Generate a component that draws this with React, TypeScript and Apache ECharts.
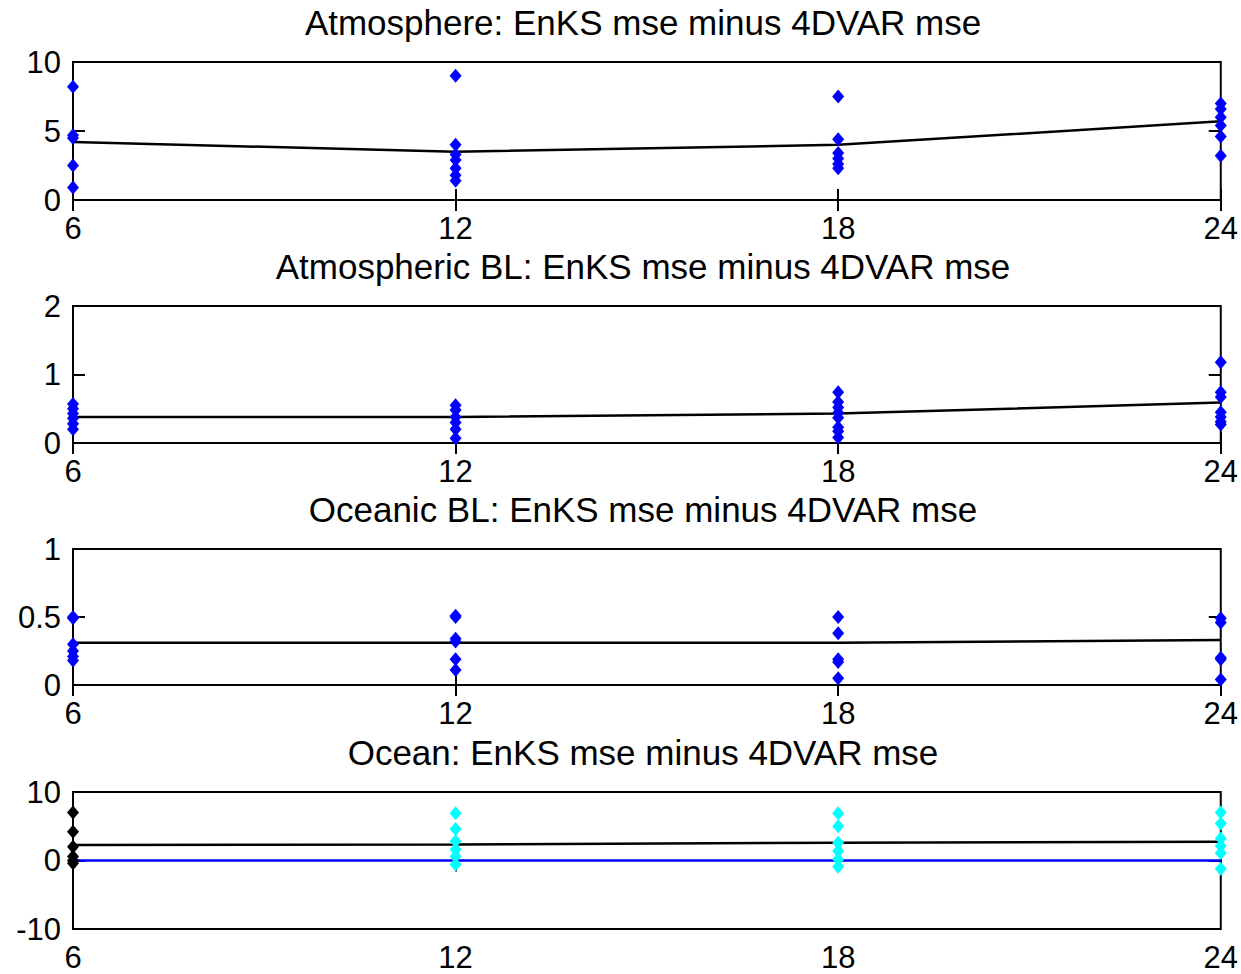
import React, { useEffect, useRef } from "react";
import * as echarts from "echarts";

const hours = [6, 12, 18, 24];
const titles = [
  "Atmosphere: EnKS mse minus 4DVAR mse",
  "Atmospheric BL: EnKS mse minus 4DVAR mse",
  "Oceanic BL: EnKS mse minus 4DVAR mse",
  "Ocean: EnKS mse minus 4DVAR mse",
];
const yMins = [0, 0, 0, -10];
const yMaxs = [10, 2, 1, 10];
const yIntervals = [5, 1, 0.5, 10];

// Panel 1: Atmosphere
const atmPts6 = [8.2, 4.7, 4.5, 2.5, 0.9];
const atmPts12 = [9.0, 4.0, 3.3, 2.9, 2.3, 1.8, 1.4];
const atmPts18 = [7.5, 4.4, 3.4, 3.0, 2.6, 2.3];
const atmPts24 = [7.0, 6.6, 6.0, 5.4, 4.6, 3.2];
const atmMean = [4.2, 3.5, 4.0, 5.7];

// Panel 2: Atmospheric BL
const ablPts6 = [0.57, 0.5, 0.43, 0.36, 0.28, 0.2];
const ablPts12 = [0.55, 0.48, 0.38, 0.3, 0.2, 0.07];
const ablPts18 = [0.74, 0.6, 0.52, 0.44, 0.37, 0.23, 0.17, 0.08];
const ablPts24 = [1.18, 0.74, 0.67, 0.45, 0.38, 0.31, 0.27];
const ablMean = [0.38, 0.38, 0.43, 0.59];

// Panel 3: Oceanic BL
const oblPts6 = [0.5, 0.49, 0.3, 0.25, 0.21, 0.18];
const oblPts12 = [0.51, 0.5, 0.34, 0.32, 0.19, 0.11];
const oblPts18 = [0.5, 0.38, 0.19, 0.17, 0.05];
const oblPts24 = [0.49, 0.46, 0.2, 0.19, 0.04];
const oblMean = [0.31, 0.31, 0.31, 0.33];

// Panel 4: Ocean
const ocnPts6 = [7.0, 4.2, 2.0, 0.6, 0.0, -0.4];
const ocnPts12 = [6.9, 4.6, 2.8, 1.6, 0.6, -0.6];
const ocnPts18 = [6.9, 5.0, 2.6, 1.4, 0.2, -0.9];
const ocnPts24 = [7.0, 5.4, 3.2, 2.1, 1.1, -1.2];
const ocnMean = [2.25, 2.35, 2.6, 2.75];
const ocnZero = [0, 0, 0, 0];

const FONT = "Liberation Sans";

function pts(x: number, ys: number[]) {
  return ys.map((y) => [x, y]);
}

export default function App() {
  const ref = useRef<HTMLDivElement>(null);
  useEffect(() => {
    if (!ref.current) return;
    const chart = echarts.init(ref.current, undefined, { renderer: "svg" });
    const tops = [62, 306, 549, 792];
    const heights = [138, 137, 136, 137];
    const left = 73;
    const width = 1148;

    const grids: any[] = [];
    const xAxes: any[] = [];
    const yAxes: any[] = [];
    const series: any[] = [];
    const graphics: any[] = [];

    const blue = "#0000ff";
    const cyan = "#00ffff";

    const panelPts = [
      [atmPts6, atmPts12, atmPts18, atmPts24],
      [ablPts6, ablPts12, ablPts18, ablPts24],
      [oblPts6, oblPts12, oblPts18, oblPts24],
      [ocnPts6, ocnPts12, ocnPts18, ocnPts24],
    ];
    const means = [atmMean, ablMean, oblMean, ocnMean];

    for (let i = 0; i < 4; i++) {
      grids.push({
        left,
        top: tops[i],
        width,
        height: heights[i],
        show: true,
        borderColor: "#000",
        borderWidth: 2,
        backgroundColor: "transparent",
        containLabel: false,
      });
      const baseX = {
        type: "value",
        gridIndex: i,
        min: 6,
        max: 24,
        interval: 6,
        splitLine: { show: false },
        axisLine: { show: false },
        axisTick: { show: true, inside: true, length: 11, lineStyle: { color: "#000", width: 2 } },
      };
      xAxes.push({
        ...baseX,
        position: "bottom",
        axisLabel: {
          show: true,
          margin: 13,
          fontSize: 31,
          fontFamily: FONT,
          color: "#000",
          showMinLabel: true,
          showMaxLabel: true,
        },
      });
      xAxes.push({ ...baseX, position: "top", axisLabel: { show: false } });
      const baseY = {
        type: "value",
        gridIndex: i,
        min: yMins[i],
        max: yMaxs[i],
        interval: yIntervals[i],
        splitLine: { show: false },
        axisLine: { show: false },
        axisTick: { show: true, inside: true, length: 12, lineStyle: { color: "#000", width: 2 } },
      };
      yAxes.push({
        ...baseY,
        position: "left",
        axisLabel: {
          show: true,
          margin: 12,
          fontSize: 31,
          fontFamily: FONT,
          color: "#000",
        },
      });
      yAxes.push({ ...baseY, position: "right", axisLabel: { show: false } });

      const xi = i * 2;
      const yi = i * 2;

      if (i === 3) {
        series.push({
          type: "line",
          xAxisIndex: xi,
          yAxisIndex: yi,
          data: hours.map((h, k) => [h, ocnZero[k]]),
          symbol: "none",
          lineStyle: { color: blue, width: 2.5 },
          z: 2,
        });
      }
      series.push({
        type: "line",
        xAxisIndex: xi,
        yAxisIndex: yi,
        data: hours.map((h, k) => [h, means[i][k]]),
        symbol: "none",
        lineStyle: { color: "#000", width: 2.5 },
        z: 2,
      });
      for (let k = 0; k < 4; k++) {
        let color = blue;
        if (i === 3) color = k === 0 ? "#000" : cyan;
        series.push({
          type: "scatter",
          xAxisIndex: xi,
          yAxisIndex: yi,
          data: pts(hours[k], panelPts[i][k]),
          symbol: "diamond",
          symbolSize: [12, 14],
          itemStyle: { color, opacity: 1 },
          z: 3,
        });
      }
      graphics.push({
        type: "text",
        x: left + width / 2 - 4,
        y: tops[i] - 40,
        style: {
          text: titles[i],
          fontSize: 35,
          fontFamily: FONT,
          fill: "#000",
          textAlign: "center",
          textVerticalAlign: "middle",
        },
      });
    }

    chart.setOption({
      animation: false,
      backgroundColor: "#fff",
      grid: grids,
      xAxis: xAxes,
      yAxis: yAxes,
      series,
      graphic: graphics,
    });
    return () => chart.dispose();
  }, []);
  return (
    <div
      ref={ref}
      style={{ position: "absolute", left: 0, top: 0, width: 1241, height: 974 }}
    />
  );
}
